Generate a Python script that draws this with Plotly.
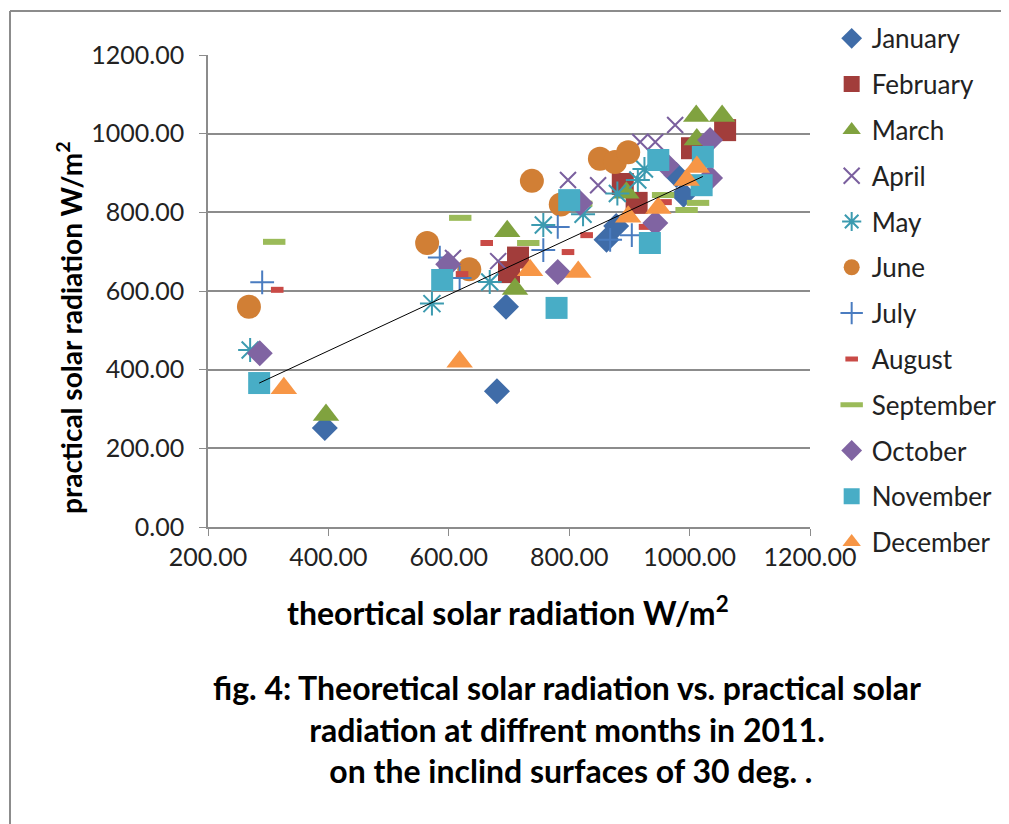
import numpy as np
import plotly.graph_objects as go

months = ["January", "February", "March", "April", "May", "June", "July",
          "August", "September", "October", "November", "December"]

jan_x = [394, 680, 695, 862, 878, 990, 978]
jan_y = [252, 345, 560, 730, 765, 845, 895]
feb_x = [700, 715, 889, 912, 1004, 1059]
feb_y = [648, 685, 872, 824, 963, 1009]
mar_x = [396, 697, 710, 895, 1011, 1054, 1012]
mar_y = [285, 752, 605, 850, 1045, 1045, 985]
apr_x = [607, 682, 798, 848, 918, 943, 976]
apr_y = [684, 676, 882, 869, 979, 979, 1022]
may_x = [270, 572, 668, 757, 823, 880, 914, 925]
may_y = [450, 568, 623, 768, 795, 848, 882, 910]
jun_x = [268, 564, 634, 738, 786, 851, 876, 898]
jun_y = [560, 722, 655, 880, 820, 936, 928, 953]
jul_x = [290, 585, 618, 757, 781, 868, 904]
jul_y = [622, 685, 633, 704, 763, 730, 742]
aug_x = [315, 622, 663, 798, 829, 926, 960]
aug_y = [603, 643, 722, 699, 742, 763, 826]
sep_x = [310, 619, 732, 820, 956, 995, 1014]
sep_y = [725, 786, 722, 822, 844, 806, 824]
oct_x = [286, 599, 781, 818, 943, 962, 1034, 1034]
oct_y = [442, 668, 648, 824, 773, 920, 887, 984]
nov_x = [285, 589, 779, 800, 934, 948, 1020, 1022]
nov_y = [366, 628, 557, 831, 722, 933, 869, 941]
dec_x = [326, 618, 735, 815, 898, 948, 995, 1012]
dec_y = [353, 420, 653, 648, 789, 811, 882, 915]

x_ticks = [200, 400, 600, 800, 1000, 1200]
y_ticks = [0, 200, 400, 600, 800, 1000, 1200]

xs = [jan_x, feb_x, mar_x, apr_x, may_x, jun_x, jul_x, aug_x, sep_x, oct_x, nov_x, dec_x]
ys = [jan_y, feb_y, mar_y, apr_y, may_y, jun_y, jul_y, aug_y, sep_y, oct_y, nov_y, dec_y]

styles = [
    dict(symbol="diamond", size=20, color="#3F6CA8"),
    dict(symbol="square", size=22, color="#A23D3B"),
    dict(symbol="triangle-up", size=23, color="#80A23F"),
    dict(symbol="x-thin", size=16, color="#7A5F9E", line=dict(width=2, color="#7A5F9E")),
    dict(symbol="asterisk", size=20, color="#3C9BB0", line=dict(width=2, color="#3C9BB0")),
    dict(symbol="circle", size=24, color="#D17F35"),
    dict(symbol="cross-thin", size=17, color="#4A7CC0", line=dict(width=2, color="#4A7CC0")),
    dict(symbol="line-ew", size=9, color="#C94A46", line=dict(width=6, color="#C94A46")),
    dict(symbol="line-ew", size=16, color="#9BBB59", line=dict(width=6, color="#9BBB59")),
    dict(symbol="diamond", size=20, color="#8064A2"),
    dict(symbol="square", size=22, color="#48ADC6"),
    dict(symbol="triangle-up", size=23, color="#F79646"),
]

fig = go.Figure()
for name, x, y, st in zip(months, xs, ys, styles):
    fig.add_trace(go.Scatter(x=x, y=y, mode="markers", name=name,
                             marker=st, legendgroup=name))

# linear trendline of November series
coef = np.polyfit(nov_x, nov_y, 1)
tx = np.array([min(nov_x), max(nov_x)])
fig.add_trace(go.Scatter(x=tx, y=np.polyval(coef, tx), mode="lines",
                         line=dict(color="black", width=1), showlegend=False,
                         hoverinfo="skip"))

font = "Lato, 'Open Sans', sans-serif"
fig.update_layout(
    width=1009, height=824,
    margin=dict(l=200, r=207, t=47, b=305, autoexpand=False),
    paper_bgcolor="white", plot_bgcolor="white",
    font=dict(family=font, color="#222", size=22),
    showlegend=True,
    legend=dict(x=1.036, y=1.085, xanchor="left", yanchor="top",
                font=dict(size=26, color="#222"), tracegroupgap=9,
                maxheight=800, bgcolor="rgba(0,0,0,0)"),
    xaxis=dict(range=[200, 1200], tickvals=x_ticks,
               ticktext=[f"{v:.2f}" for v in x_ticks],
               showgrid=False, zeroline=False, showline=True,
               linecolor="#8c8c8c", linewidth=1.5, ticks="outside",
               ticklen=7, tickcolor="#8c8c8c", tickfont=dict(size=25),
               automargin=False),
    yaxis=dict(range=[0, 1200], tickvals=y_ticks,
               ticktext=[f"{v:.2f}" for v in y_ticks],
               showgrid=True, gridcolor="#8c8c8c", gridwidth=1.5,
               zeroline=False, showline=True, linecolor="#8c8c8c",
               linewidth=1.5, ticks="outside", ticklen=7,
               tickcolor="#8c8c8c", tickfont=dict(size=25),
               ticklabelstandoff=10, automargin=False),
)


def px(v):
    return (v - 208) / 602


def py(v):
    return (527 - v) / 472


fig.add_annotation(text="practical solar radiation W/m<sup>2</sup>",
                   xref="paper", yref="paper", x=px(69), y=py(328),
                   xanchor="center", yanchor="middle",
                   textangle=-90, showarrow=False,
                   font=dict(size=28, family=font, color="black", weight="bold"))
fig.add_annotation(text="theortical solar radiation W/m<sup>2</sup>",
                   xref="paper", yref="paper", x=px(508), y=py(611),
                   xanchor="center", yanchor="middle",
                   showarrow=False,
                   font=dict(size=32, family=font, color="black", weight="bold"))
fig.add_annotation(text="fig. 4: Theoretical solar radiation vs. practical solar<br>"
                        "radiation at diffrent months in 2011.<br>"
                        " on the inclind surfaces of 30 deg. .",
                   xref="paper", yref="paper", x=px(567), y=py(729),
                   xanchor="center", yanchor="middle",
                   showarrow=False, align="center",
                   font=dict(size=32, family=font, color="black", weight="bold"))

# outer frame
fig.add_shape(type="line", xref="paper", yref="paper", x0=px(10), x1=px(1020),
              y0=py(11), y1=py(11), line=dict(color="#8c8c8c", width=2))
fig.add_shape(type="line", xref="paper", yref="paper", x0=px(10), x1=px(10),
              y0=py(11), y1=py(830), line=dict(color="#8c8c8c", width=2))

fig.write_html("out.html")
